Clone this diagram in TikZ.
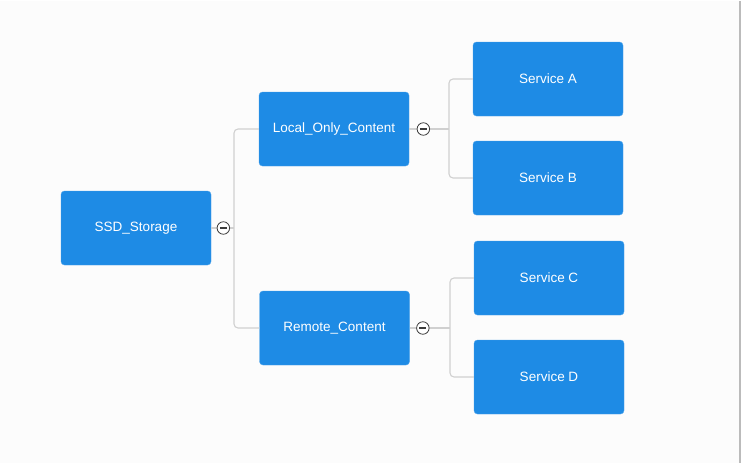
\documentclass[tikz,border=0pt]{standalone}
\usepackage{fontspec}
\setmainfont{Liberation Sans}
\usepackage{tikz}
\usepackage{xcolor}
\usetikzlibrary{positioning,calc}
\definecolor{boxblue}{RGB}{30,139,229}
\definecolor{linkgray}{RGB}{208,208,208}
\definecolor{toggray}{RGB}{60,60,60}

\begin{document}
\begin{tikzpicture}[x=1pt,y=-1pt,
box/.style={rectangle,fill=boxblue,draw=boxblue!80!white,rounded corners=3.5pt,minimum width=150pt,minimum height=74pt,inner sep=0pt,text=white,font=\fontsize{13.5}{16}\selectfont},
link/.style={draw=linkgray,line width=1.1pt,rounded corners=4pt},
tog/.style={circle,draw=toggray,fill=white,line width=0.8pt,minimum size=12.5pt,inner sep=0pt},
bar/.style={draw=toggray,line width=1.1pt}]

\fill[white!99!black] (0,0) rectangle (741,462);
\draw[linkgray!90!black,line width=2pt] (740,0) -- (740,462);

\node[box] (root) at (136,227) {SSD\_Storage};
\node[box] (lo) at (334,128) {Local\_Only\_Content};
\node[box] (rc) at (334.5,327) {Remote\_Content};
\node[box] (sa) at (548,78) {Service A};
\node[box] (sb) at (548,177) {Service B};
\node[box] (sc) at (549,277) {Service C};
\node[box] (sd) at (549,376) {Service D};

\coordinate (j1) at (234,227);
\coordinate (j2) at (449,128);
\coordinate (j3) at (450,327);

\draw[link] (root.east) -- (j1);
\draw[link] (lo.west) -| (j1) |- (rc.west);
\draw[link] (lo.east) -- (j2);
\draw[link] (sa.west) -| (j2) |- (sb.west);
\draw[link] (rc.east) -- (j3);
\draw[link] (sc.west) -| (j3) |- (sd.west);

\node[tog, right=5.5pt of root] (t1) {};
\node[tog, right=7.5pt of lo] (t2) {};
\node[tog, right=6.5pt of rc] (t3) {};
\foreach \t in {t1,t2,t3}
  \draw[bar] ([xshift=-3.5pt]\t.center) -- ([xshift=3.5pt]\t.center);
\end{tikzpicture}
\end{document}
